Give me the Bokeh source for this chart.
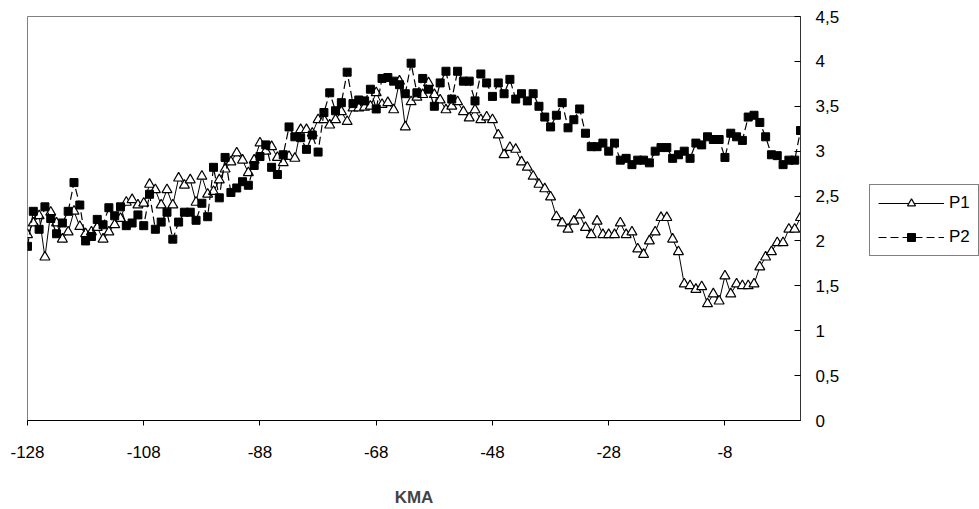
from bokeh.plotting import figure
from bokeh.layouts import row
from bokeh.models import (Range1d, LinearAxis, FixedTicker, CustomJSTickFormatter,
                          Legend, LegendItem)
from bokeh.embed import file_html
from bokeh.resources import INLINE

# ---- data ----
p1 = [2.07, 2.2, 2.28, 1.82, 2.32, 2.2, 2.02, 2.1, 2.33, 2.16,
      2.08, 2.1, 2.15, 2.02, 2.1, 2.18, 2.25, 2.43, 2.46, 2.4,
      2.42, 2.63, 2.57, 2.4, 2.57, 2.4, 2.7, 2.62, 2.68, 2.43,
      2.72, 2.52, 2.55, 2.68, 2.8, 2.88, 2.98, 2.9, 2.76, 2.9,
      3.09, 3.0, 3.05, 2.93, 2.87, 2.94, 2.92, 3.24, 3.24, 3.2,
      3.35, 3.35, 3.29, 3.35, 3.44, 3.33, 3.48, 3.48, 3.49, 3.5,
      3.65, 3.52, 3.54, 3.46, 3.78, 3.27, 3.55, 3.6, 3.63, 3.76,
      3.63, 3.57, 3.46, 3.5, 3.55, 3.44, 3.37, 3.46, 3.35, 3.38,
      3.35, 3.18, 2.96, 3.04, 3.02, 2.88, 2.82, 2.72, 2.63, 2.58,
      2.49, 2.27, 2.2, 2.13, 2.22, 2.29, 2.15, 2.07, 2.22, 2.07,
      2.07, 2.07, 2.2, 2.07, 2.1, 1.91, 1.85, 2.0, 2.1, 2.26,
      2.26, 2.02, 1.88, 1.52, 1.5, 1.46, 1.49, 1.3, 1.41, 1.33,
      1.61, 1.41, 1.52, 1.5, 1.5, 1.52, 1.71, 1.82, 1.88, 1.98,
      1.98, 2.13, 2.13, 2.26]
p2 = [1.94, 2.33, 2.13, 2.38, 2.25, 2.08, 2.2, 2.33, 2.65, 2.4,
      2.0, 2.05, 2.24, 2.18, 2.37, 2.28, 2.38, 2.17, 2.2, 2.29,
      2.17, 2.52, 2.13, 2.21, 2.32, 2.02, 2.21, 2.32, 2.32, 2.23,
      2.42, 2.27, 2.82, 2.48, 2.93, 2.54, 2.59, 2.66, 2.62, 2.84,
      2.94, 3.07, 2.82, 2.74, 2.96, 3.27, 3.16, 3.15, 3.02, 3.18,
      2.99, 3.43, 3.65, 3.45, 3.54, 3.88, 3.53, 3.57, 3.56, 3.69,
      3.47, 3.81, 3.82, 3.78, 3.74, 3.64, 3.98, 3.65, 3.81, 3.69,
      3.5, 3.76, 3.89, 3.58, 3.89, 3.78, 3.78, 3.56, 3.86, 3.76,
      3.61, 3.76, 3.64, 3.8, 3.58, 3.64, 3.56, 3.64, 3.5, 3.38,
      3.27, 3.4, 3.54, 3.26, 3.35, 3.47, 3.2, 3.05, 3.05, 3.09,
      3.0, 3.09, 2.9, 2.92, 2.85, 2.9, 2.9, 2.87, 3.0, 3.04,
      3.04, 2.92, 2.96, 3.0, 2.92, 3.09, 3.07, 3.16, 3.13, 3.13,
      2.93, 3.2, 3.16, 3.12, 3.38, 3.4, 3.32, 3.16, 2.96, 2.95,
      2.85, 2.9, 2.9, 3.23]
kma = list(range(-128, -128 + len(p1)))
x_ticks = [-128, -108, -88, -68, -48, -28, -8]
y_ticks = [0, 0.5, 1, 1.5, 2, 2.5, 3, 3.5, 4, 4.5]
series_names = ["P1", "P2"]

FONT = "Liberation Sans"

P1_LINE = dict(line_color="black", line_width=1)
P1_MARK = dict(marker="triangle", size=10, fill_color="white", line_color="black", line_width=1.2)
P2_LINE = dict(line_color="black", line_width=1.2, line_dash="8 4")
P2_MARK = dict(marker="square", size=8, fill_color="black", line_color="black")

p = figure(width=842, height=509, output_backend="svg", toolbar_location=None,
           x_range=Range1d(kma[0], kma[-1]), y_range=Range1d(0, 4.5),
           x_axis_location=None, y_axis_location=None,
           min_border_left=27, min_border_top=16, min_border_right=40,
           min_border_bottom=87)
p.grid.visible = False
p.outline_line_color = "#808080"
p.outline_line_width = 1
p.background_fill_color = "white"
p.border_fill_color = "white"

# bottom axis
xa = LinearAxis(ticker=FixedTicker(ticks=x_ticks), axis_label="KMA",
                formatter=CustomJSTickFormatter(code="return tick.toFixed(0);"))
xa.axis_line_color = "black"
xa.major_tick_in = 0
xa.major_tick_out = 5
xa.minor_tick_line_color = None
xa.major_label_standoff = 20
xa.major_label_text_font = FONT
xa.major_label_text_font_size = "17px"
xa.major_label_text_color = "black"
xa.axis_label_text_font = FONT
xa.axis_label_text_font_style = "bold"
xa.axis_label_text_font_size = "17px"
xa.axis_label_standoff = 27
p.add_layout(xa, "below")

# right axis
ya = LinearAxis(ticker=FixedTicker(ticks=y_ticks),
                formatter=CustomJSTickFormatter(code="return tick.toString().replace('.', ',');"))
ya.axis_line_color = "#333333"
ya.major_tick_in = 6
ya.major_tick_out = 0
ya.minor_tick_line_color = None
ya.major_label_standoff = 15
ya.major_label_text_font = FONT
ya.major_label_text_font_size = "17px"
ya.major_label_text_color = "black"
p.add_layout(ya, "right")

p.line(kma, p1, **P1_LINE)
p.scatter(kma, p1, **P1_MARK)
p.line(kma, p2, **P2_LINE)
p.scatter(kma, p2, **P2_MARK)

# legend panel to the right of the chart (its renderers sit outside its visible range)
q = figure(width=137, height=509, output_backend="svg", toolbar_location=None,
           x_range=Range1d(0, 1), y_range=Range1d(0, 1),
           x_axis_location=None, y_axis_location=None, min_border=0)
q.grid.visible = False
q.outline_line_color = None
q.background_fill_color = "white"
q.border_fill_color = "white"
ql1 = q.line([-5, -4], [-5, -4], **P1_LINE)
qs1 = q.scatter([-5], [-5], **P1_MARK)
ql2 = q.line([-5, -4], [-5, -4], **P2_LINE)
qs2 = q.scatter([-5], [-5], **P2_MARK)

legend = Legend(items=[LegendItem(label=series_names[0], renderers=[ql1, qs1]),
                       LegendItem(label=series_names[1], renderers=[ql2, qs2])],
                location=(27, 164))
legend.border_line_color = "black"
legend.border_line_width = 1
legend.background_fill_alpha = 1
legend.padding = 8
legend.margin = 0
legend.spacing = 14
legend.glyph_width = 66
legend.glyph_height = 20
legend.label_height = 20
legend.label_standoff = 5
legend.label_text_font = FONT
legend.label_text_font_size = "17px"
legend.label_text_color = "black"
q.add_layout(legend, "center")

layout = row(p, q, spacing=0)
open("out.html", "w").write(file_html(layout, INLINE))
